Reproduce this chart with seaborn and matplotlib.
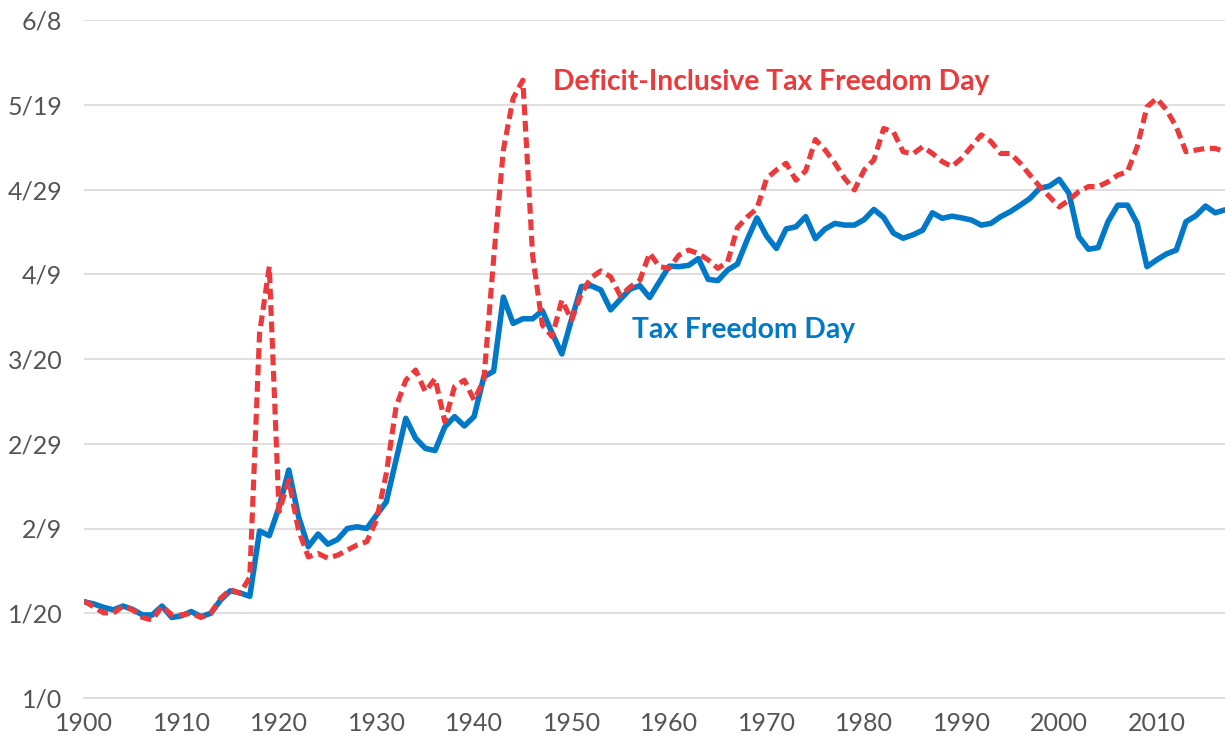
import numpy as np
import pandas as pd
import seaborn as sns
import matplotlib.pyplot as plt

# day of year on which Tax Freedom Day falls, 1900-2017
years = list(range(1900, 2018))

tax_freedom_day = [
    22.7, 22.2, 21.4, 20.8, 21.7, 20.9, 19.6, 19.6, 21.7, 19.0,   # 1900s
    19.4, 20.4, 19.2, 20.0, 23.1, 25.3, 24.8, 24.0, 39.4, 38.3,   # 1910s
    45.0, 53.8, 42.8, 35.7, 38.7, 36.3, 37.4, 40.0, 40.4, 40.0,   # 1920s
    43.2, 46.3, 56.2, 66.0, 61.3, 58.9, 58.4, 64.0, 66.4, 64.2,   # 1930s
    66.4, 75.8, 77.1, 94.6, 88.4, 89.5, 89.5, 91.4, 86.1, 81.2,   # 1940s
    89.4, 97.1, 97.3, 96.3, 91.6, 94.1, 96.5, 97.3, 94.5, 98.2,   # 1950s
    101.9, 101.8, 102.1, 103.7, 98.8, 98.5, 101.0, 102.4, 108.1, 113.3,  # 1960s
    109.0, 106.1, 110.7, 111.2, 113.6, 108.4, 110.7, 112.0, 111.6, 111.6,  # 1970s
    112.9, 115.3, 113.4, 109.7, 108.5, 109.3, 110.4, 114.5, 113.2, 113.7,  # 1980s
    113.3, 112.8, 111.6, 112.0, 113.6, 114.8, 116.3, 117.9, 120.3, 120.8,  # 1990s
    122.4, 119.1, 108.9, 105.9, 106.3, 112.4, 116.3, 116.3, 112.0, 101.8,  # 2000s
    103.4, 104.8, 105.7, 112.4, 113.8, 116.1, 114.5, 115.2,              # 2010s
]

deficit_inclusive_tfd = [
    22.9, 21.5, 20.1, 20.0, 21.7, 20.8, 19.0, 18.4, 21.7, 19.6,
    19.6, 20.0, 19.0, 20.0, 23.5, 25.6, 24.7, 28.5, 86.0, 101.8,
    44.0, 51.4, 39.6, 33.3, 34.1, 33.0, 33.7, 34.9, 36.1, 36.9,
    42.0, 53.0, 68.7, 75.0, 77.4, 72.3, 75.4, 65.2, 73.5, 75.0,
    70.3, 75.0, 103.5, 129.3, 141.5, 145.8, 104.5, 88.0, 85.3, 93.9,
    89.2, 95.5, 99.2, 100.8, 99.4, 94.9, 97.0, 98.6, 105.0, 101.8,
    101.4, 104.5, 105.7, 104.9, 103.4, 101.4, 102.9, 111.0, 113.5, 115.5,
    122.6, 124.6, 126.2, 122.2, 124.4, 131.8, 129.3, 126.2, 122.6, 119.9,
    124.6, 127.0, 134.4, 133.6, 128.9, 128.4, 130.1, 128.5, 126.6, 125.4,
    127.4, 130.1, 132.9, 131.3, 128.5, 128.5, 126.2, 123.4, 120.7, 118.3,
    115.9, 117.5, 119.5, 120.7, 120.7, 121.8, 123.4, 124.2, 130.1, 139.5,
    141.5, 138.8, 134.8, 128.9, 129.3, 129.7, 129.7, 128.9,
]

y_ticks = [0, 20, 40, 60, 80, 100, 120, 140, 160]
y_tick_labels = ["1/0", "1/20", "2/9", "2/29", "3/20", "4/9", "4/29", "5/19", "6/8"]
x_ticks = list(range(1900, 2020, 10))

df = pd.DataFrame({"year": years, "tfd": tax_freedom_day, "ditfd": deficit_inclusive_tfd})

blue = "#0279C8"
red = "#EC393B"
grid_c = "#D9D9D9"
label_c = "#555555"

sns.set_style("white")
plt.rcParams["font.family"] = ["Lato", "DejaVu Sans"]

fig = plt.figure(figsize=(12.25, 7.4), dpi=100)
ax = fig.add_axes([84 / 1225, 42 / 740, 1141 / 1225, 678 / 740])

sns.lineplot(data=df, x="year", y="tfd", ax=ax, color=blue, linewidth=4.0,
             solid_joinstyle="round", zorder=3)
sns.lineplot(data=df, x="year", y="ditfd", ax=ax, color=red, linewidth=3.7,
             dashes=False, zorder=4)
ax.lines[-1].set_dashes([2.1, 1.1])

ax.set_xlim(1900, 2017)
ax.set_ylim(0, 160)
ax.set_yticks(y_ticks)
ax.set_yticklabels(y_tick_labels)
ax.set_xticks(x_ticks)
ax.set_xlabel("")
ax.set_ylabel("")

ax.grid(axis="y", color=grid_c, linewidth=1.2)
ax.grid(axis="x", visible=False)
ax.set_axisbelow(True)
for s in ["top", "right", "left"]:
    ax.spines[s].set_visible(False)
ax.spines["bottom"].set_color(grid_c)
ax.spines["bottom"].set_linewidth(1.2)

ax.tick_params(axis="y", length=0, pad=15.5, labelsize=18, labelcolor=label_c)
ax.tick_params(axis="x", direction="inout", length=10, width=1.2, color=grid_c,
               pad=5, labelsize=18, labelcolor=label_c)

ax.text(1948.1, 145.4, "Deficit-Inclusive Tax Freedom Day", color=red,
        fontsize=20.3, fontweight="bold", ha="left", va="center")
ax.text(1956.2, 86.8, "Tax Freedom Day", color=blue,
        fontsize=20.3, fontweight="bold", ha="left", va="center")

fig.savefig("out.png", dpi=100)
